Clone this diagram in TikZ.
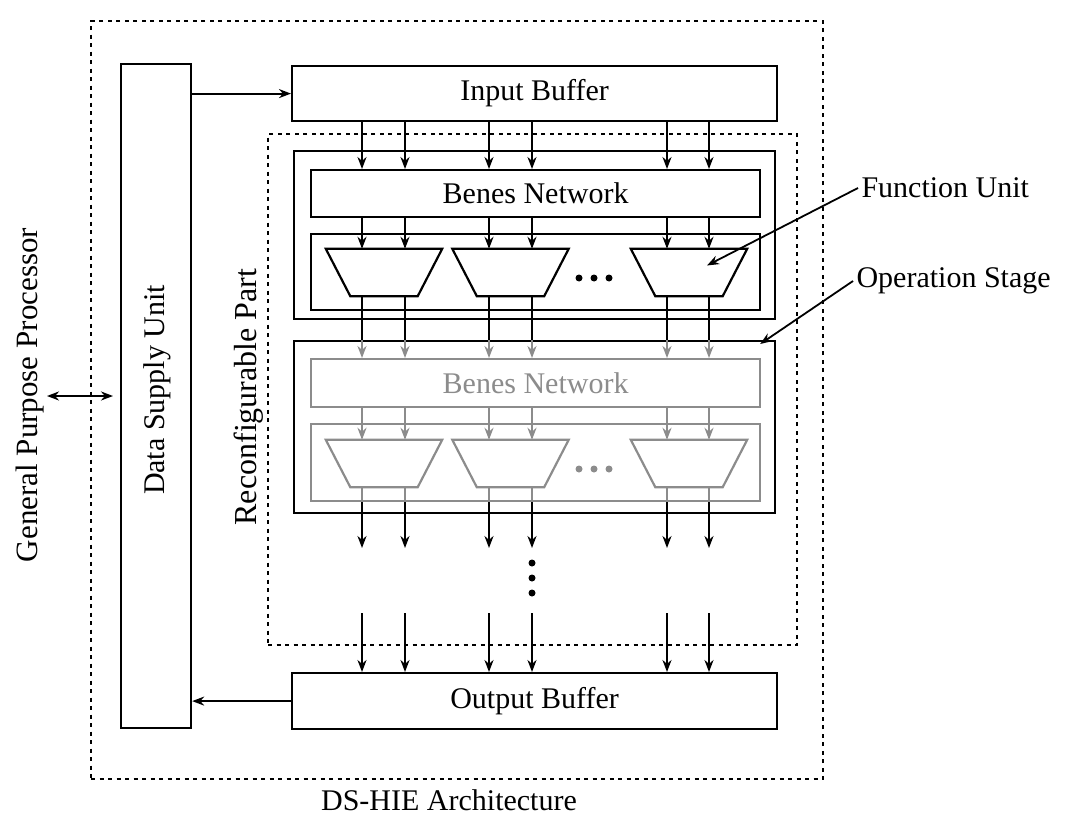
\documentclass[tikz,border=0pt]{standalone}
\usepackage{fontspec}
\setmainfont{Liberation Serif}
\usetikzlibrary{arrows.meta,calc}
\definecolor{gline}{gray}{0.55}
\tikzset{
  box/.style={draw=black,line width=2.2pt,inner sep=0pt},
  gbox/.style={draw=gline,line width=2.2pt,inner sep=0pt},
  dotbox/.style={draw=black,line width=2.2pt,dash pattern=on 4pt off 4.5pt},
  txt/.style={font=\fontsize{30}{36}\selectfont},
  arr/.style={line width=2pt,-{Stealth[length=12pt,width=9pt]}},
  garr/.style={line width=2pt,draw=gline,-{Stealth[length=12pt,width=9pt]}},
  ln/.style={line width=2pt},
  gln/.style={line width=2pt,draw=gline},
  fu/.style={minimum width=116pt,minimum height=47pt,inner sep=0pt},
  trap/.style={line width=2.2pt,line join=miter},
  dot/.style={circle,fill=black,inner sep=0pt,minimum size=7pt}
}
\newcommand{\trapz}[2]{\draw[trap,draw=#2] (#1.north west) -- (#1.north east) -- ($(#1.south east)+(-24.5,0)$) -- ($(#1.south west)+(24.5,0)$) -- cycle;}
\begin{document}
\begin{tikzpicture}[x=1pt,y=-1pt]
\useasboundingbox (0,0) rectangle (1066,816);
% outer architecture box
\node[dotbox,minimum width=732pt,minimum height=758pt,anchor=north west,inner sep=0pt] (arch) at (90,20) {};
\node[txt] (archlbl) at (449,800) {DS-HIE Architecture};
% reconfigurable part
\node[dotbox,minimum width=529pt,minimum height=511pt,anchor=north west,inner sep=0pt] (rp) at (267,133) {};
\node[txt,rotate=90,font=\fontsize{32}{38}\selectfont] (rplbl) at (249,397) {Reconfigurable Part};
% data supply unit
\node[box,minimum width=70pt,minimum height=664pt,anchor=north west] (dsu) at (120,63) {};
\node[txt,rotate=90] (dsulbl) at (157,390) {Data Supply Unit};
% GPP
\node[txt,rotate=90,font=\fontsize{31}{37}\selectfont] (gpp) at (30,395) {General Purpose Processor};
\coordinate (gppr) at (47,396);
\coordinate (dsul) at (113,396);
\draw[line width=2pt,{Stealth[length=12pt,width=9pt]}-{Stealth[length=12pt,width=9pt]}] (gppr) -- (dsul);
% buffers
\node[box,minimum width=485pt,minimum height=55pt,anchor=north west] (ib) at (291,65) {};
\node[txt] at (ib.center) {Input Buffer};
\node[box,minimum width=485pt,minimum height=56pt,anchor=north west] (ob) at (291,672) {};
\node[txt] at (ob.center) {Output Buffer};
\draw[arr] (dsu.east |- ib.west) -- (ib.west);
\draw[arr] (ob.west) -- (dsu.east |- ob.west);
% stage 1
\node[box,minimum width=481pt,minimum height=168pt,anchor=north west] (st1) at (293,150) {};
\node[box,minimum width=449pt,minimum height=47pt,anchor=north west] (bn1) at (310,169) {};
\node[txt] at (bn1.center) {Benes Network};
\node[box,minimum width=449pt,minimum height=76pt,anchor=north west] (fb1) at (310,233) {};
\node[fu] (f1a) at (384,272.5) {};
\node[fu] (f1b) at (510.5,272.5) {};
\node[fu] (f1c) at (689,272.5) {};
\trapz{f1a}{black}\trapz{f1b}{black}\trapz{f1c}{black}
\node[dot] (d1a) at (579,278) {};
\node[dot] (d1b) at (594,278) {};
\node[dot] (d1c) at (609,278) {};
% stage 2
\node[box,minimum width=481pt,minimum height=172pt,anchor=north west] (st2) at (293,340) {};
\node[gbox,minimum width=449pt,minimum height=48pt,anchor=north west] (bn2) at (310,358) {};
\node[txt,text=gline] at (bn2.center) {Benes Network};
\node[gbox,minimum width=449pt,minimum height=77pt,anchor=north west] (fb2) at (310,423) {};
\node[fu] (f2a) at (384,463.5) {};
\node[fu] (f2b) at (510.5,463.5) {};
\node[fu] (f2c) at (689,463.5) {};
\trapz{f2a}{gline}\trapz{f2b}{gline}\trapz{f2c}{gline}
\node[dot,fill=gline] (d2a) at (579,469) {};
\node[dot,fill=gline] (d2b) at (594,469) {};
\node[dot,fill=gline] (d2c) at (609,469) {};
% vertical ellipsis
\node[dot] (v1) at (532,563) {};
\node[dot] (v2) at (532,578) {};
\node[dot] (v3) at (532,593) {};
% columns
\coordinate (c1) at (362,0);
\coordinate (c2) at (405,0);
\coordinate (c3) at (489,0);
\coordinate (c4) at (532,0);
\coordinate (c5) at (667,0);
\coordinate (c6) at (709,0);
\coordinate (ya) at (0,548);
\coordinate (yb) at (0,613);
\foreach \c/\f in {c1/a,c2/a,c3/b,c4/b,c5/c,c6/c}{
  \draw[arr] (ib.south -| \c) -- (bn1.north -| \c);
  \draw[arr] (bn1.south -| \c) -- (f1\f.north -| \c);
  \draw[ln] (f1\f.south -| \c) -- (st2.north -| \c);
  \draw[garr] (st2.north -| \c) -- (bn2.north -| \c);
  \draw[garr] (bn2.south -| \c) -- (f2\f.north -| \c);
  \draw[gln] (f2\f.south -| \c) -- (fb2.south -| \c);
  \draw[ln] (fb2.south -| \c) -- (st2.south -| \c);
  \draw[arr] (st2.south -| \c) -- (ya -| \c);
  \draw[arr] (yb -| \c) -- (ob.north -| \c);
}
% callouts
\node[txt,anchor=west] (fulbl) at (858,188) {Function Unit};
\node[txt,anchor=west] (oslbl) at (853,281) {Operation Stage};
\draw[line width=1.8pt,-{Stealth[length=12pt,width=9pt]}] (fulbl.west) -- ($(f1c.center)+(18,-7)$);
\draw[line width=1.8pt,-{Stealth[length=12pt,width=9pt]}] (oslbl.west) -- ($(st2.north east)+(-16,4)$);
\end{tikzpicture}
\end{document}
